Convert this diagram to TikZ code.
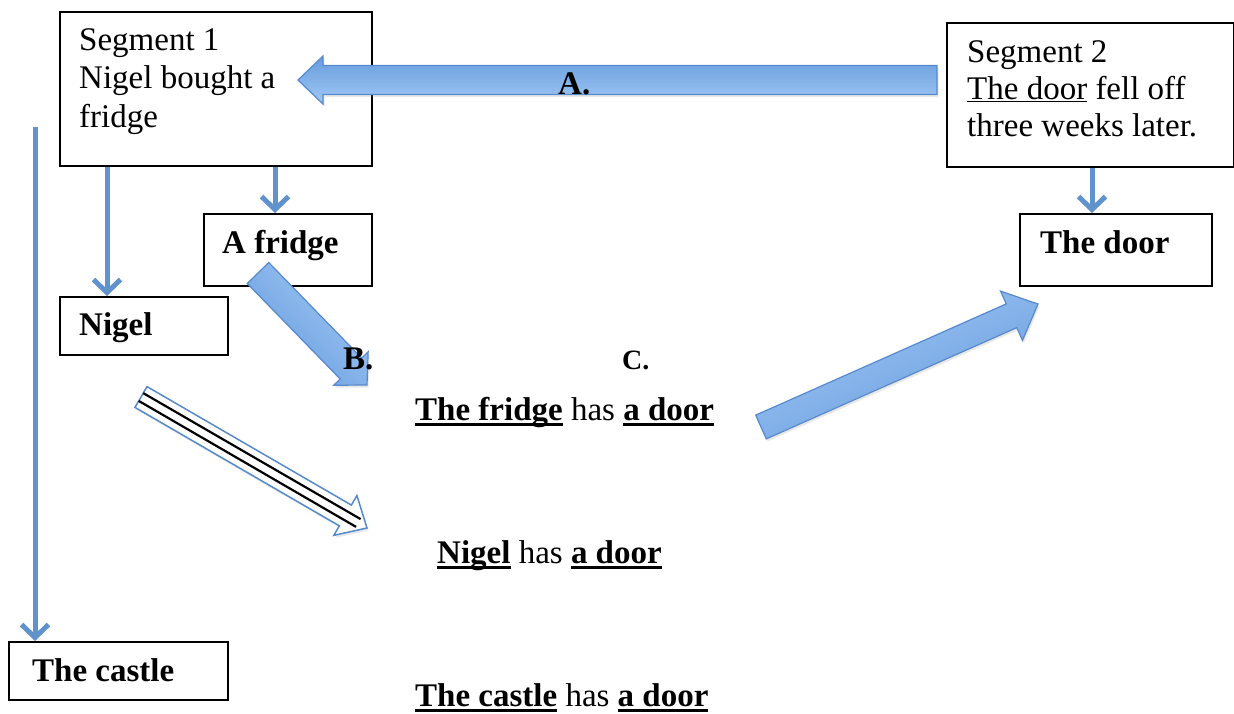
\documentclass[tikz,border=0pt]{standalone}
\usepackage{fontspec}
\setmainfont{Liberation Serif}
\usetikzlibrary{arrows.meta,calc,shadows}
\definecolor{lineblue}{RGB}{96,146,204}
\definecolor{fillA}{RGB}{102,156,222}
\definecolor{fillB}{RGB}{162,200,244}
\definecolor{edgeblue}{RGB}{86,138,204}
% underline: #1 depth below baseline, #2 thickness, #3 text
\newsavebox\ulbox
\newcommand\myul[3]{\sbox\ulbox{#3}\rlap{\rule[-#1]{\wd\ulbox}{#2}}\usebox\ulbox}
% block arrow: #1 style, #2 tail, #3 tip, #4 body half width, #5 head half width, #6 head length
\newcommand\blockarrow[6]{%
  \coordinate (ba-base) at ($(#3)!#6!(#2)$);
  \path[#1] ($(#2)!#4!90:(#3)$) -- ($(ba-base)!#4!90:(#3)$) -- ($(ba-base)!#5!90:(#3)$)
    -- (#3) -- ($(ba-base)!#5!-90:(#3)$) -- ($(ba-base)!#4!-90:(#3)$) -- ($(#2)!#4!-90:(#3)$) -- cycle;}
\tikzset{
  box/.style={draw, line width=1.8pt, inner sep=0pt, anchor=north west},
  txt/.style={anchor=base west, inner sep=0pt, font=\fontsize{33}{38}\selectfont},
  btxt/.style={anchor=base west, inner sep=0pt, font=\fontsize{33}{38}\selectfont\bfseries},
  thinarrow/.style={draw=lineblue, line width=5pt, -{Straight Barb[length=13pt, width=27pt]}},
  bluearrow/.style={draw=edgeblue, line width=1.2pt, top color=fillA, bottom color=fillB,
    drop shadow={opacity=0.18, shadow xshift=1.5pt, shadow yshift=-2.5pt}},
  whitearrow/.style={draw=edgeblue, line width=1.5pt, fill=white,
    drop shadow={opacity=0.18, shadow xshift=1.5pt, shadow yshift=-2.5pt}},
  stripe/.style={draw=black, line width=2.2pt}
}
\begin{document}
\begin{tikzpicture}[x=1pt,y=-1pt]
\useasboundingbox (0,0) rectangle (1234,713);

% boxes
\node[box, minimum width=312pt, minimum height=154pt] (seg1) at (59,11) {};
\node[box, minimum width=287pt, minimum height=144pt] (seg2) at (946,22) {};
\node[box, minimum width=168pt, minimum height=72pt] (fridge) at (203,213) {};
\node[box, minimum width=168pt, minimum height=58pt] (nigel) at (59,296) {};
\node[box, minimum width=192pt, minimum height=72pt] (door) at (1019,213) {};
\node[box, minimum width=219pt, minimum height=58pt] (castle) at (8,641) {};

% box texts
\node[txt] (s1a) at (79,50) {Segment 1};
\node[txt] (s1b) at (79,88) {Nigel bought a};
\node[txt] (s1c) at (79,127) {fridge};
\node[txt] (s2a) at (967,62) {Segment 2};
\node[txt] (s2b) at (967,99) {\myul{3pt}{1.4pt}{The door} fell off};
\node[txt] (s2c) at (967,136) {three weeks later.};
\node[btxt] (tfridge) at (222,253) {A fridge};
\node[btxt] (tnigel) at (79,335) {Nigel};
\node[btxt] (tdoor) at (1040,253) {The door};
\node[btxt] (tcastle) at (32,681) {The castle};

% thin connectors
\coordinate (ltop) at (35,127);
\draw[thinarrow] (seg1.south -| 107,0) -- (nigel.north -| 107,0);
\draw[thinarrow] (seg1.south -| 275,0) -- (fridge.north -| 275,0);
\draw[thinarrow] (seg2.south -| 1092,0) -- (door.north -| 1092,0);
\draw[thinarrow] (ltop) -- (castle.north -| 35,0);

% block arrows
\coordinate (aTail) at (937,80);
\coordinate (aTip) at (298,80);
\blockarrow{bluearrow}{aTail}{aTip}{14.5pt}{24pt}{25pt}

\coordinate (bTail) at (258,273);
\coordinate (bTip) at (367,385);
\blockarrow{bluearrow, shading angle=134}{bTail}{bTip}{15pt}{24pt}{23pt}

\coordinate (cTail) at (761,427);
\coordinate (cTip) at (1038,304);
\blockarrow{bluearrow, shading angle=-156}{cTail}{cTip}{13pt}{27pt}{29pt}

\coordinate (dTail) at (141,397);
\coordinate (dTip) at (367,528);
\blockarrow{whitearrow}{dTail}{dTip}{12pt}{23pt}{25pt}
\coordinate (dEnd) at ($(dTip)!10pt!(dTail)$);
\draw[stripe] ($(dTail)!4.5pt!90:(dTip)$) -- ($(dEnd)!4.5pt!-90:(dTail)$);
\draw[stripe] ($(dTail)!4.5pt!-90:(dTip)$) -- ($(dEnd)!4.5pt!90:(dTail)$);

% labels
\node[btxt] (labA) at (558,94) {A.};
\node[btxt] (labB) at (343,369) {B.};
\node[btxt, font=\fontsize{28}{32}\selectfont\bfseries] (labC) at (622,369) {C.};

% sentences
\node[txt] (sent1) at (415,420) {\myul{5.7pt}{2.3pt}{\bfseries The fridge} has \myul{5.7pt}{2.3pt}{\bfseries a door}};
\node[txt] (sent2) at (437,563) {\myul{5.7pt}{2.3pt}{\bfseries Nigel} has \myul{5.7pt}{2.3pt}{\bfseries a door}};
\node[txt] (sent3) at (415,706) {\myul{5.7pt}{2.3pt}{\bfseries The castle} has \myul{5.7pt}{2.3pt}{\bfseries a door}};
\end{tikzpicture}
\end{document}
